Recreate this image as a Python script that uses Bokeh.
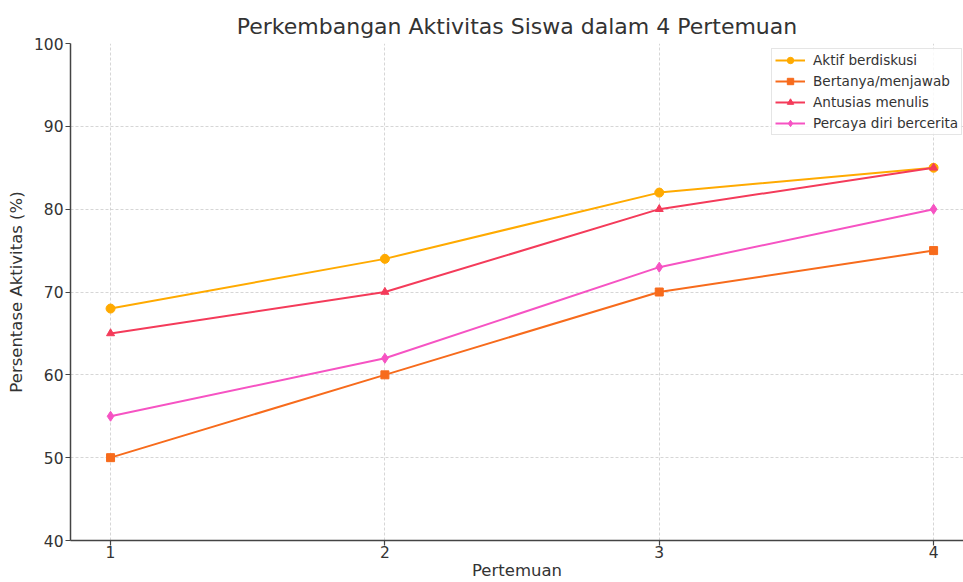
from bokeh.plotting import figure
from bokeh.models import Range1d, FixedTicker, Legend, LegendItem
from bokeh.embed import file_html
from bokeh.resources import INLINE

pertemuan = [1, 2, 3, 4]
aktif = [68, 74, 82, 85]
bertanya = [50, 60, 70, 75]
antusias = [65, 70, 80, 85]
percaya = [55, 62, 73, 80]
y_ticks = [40, 50, 60, 70, 80, 90, 100]

FONT = "DejaVu Sans"

p = figure(width=963, height=582, output_backend="svg", toolbar_location=None,
           x_range=Range1d(0.854, 4.109), y_range=Range1d(40, 100),
           min_border_left=70, min_border_right=0, min_border_top=43, min_border_bottom=41)

p.title.text = "Perkembangan Aktivitas Siswa dalam 4 Pertemuan"
p.title.align = "center"
p.title.text_font = FONT
p.title.text_font_size = "22px"
p.title.text_font_style = "normal"
p.title.text_color = "#333333"
p.title.offset = 9
p.title.standoff = 9

p.outline_line_color = None
for ax in (p.xaxis[0], p.yaxis[0]):
    ax.axis_line_color = "#444444"
    ax.axis_line_width = 1.5
    ax.major_tick_line_color = "#444444"
    ax.major_tick_line_width = 1.2
    ax.major_tick_out = 5
    ax.major_tick_in = 0
    ax.minor_tick_line_color = None
    ax.major_label_text_font = FONT
    ax.major_label_text_font_size = "15.5px"
    ax.major_label_text_color = "#333333"
    ax.axis_label_text_font = FONT
    ax.axis_label_text_font_size = "16.5px"
    ax.axis_label_text_font_style = "normal"
    ax.axis_label_text_color = "#333333"

p.xaxis.ticker = FixedTicker(ticks=pertemuan)
p.yaxis.ticker = FixedTicker(ticks=y_ticks)
p.xaxis.axis_label = "Pertemuan"
p.yaxis.axis_label = "Persentase Aktivitas (%)"
p.xaxis.axis_label_standoff = 0
p.yaxis.axis_label_standoff = 5
p.xaxis.major_label_standoff = 0
p.yaxis.major_label_standoff = 2

for g in (p.xgrid[0], p.ygrid[0]):
    g.grid_line_color = "#cccccc"
    g.grid_line_dash = "3 2"
    g.grid_line_width = 0.8

series = [
    ("Aktif berdiskusi", aktif, "#FFAA00", "circle", 9),
    ("Bertanya/menjawab", bertanya, "#F76B1C", "square", 8),
    ("Antusias menulis", antusias, "#F43B5A", "triangle", 8),
    ("Percaya diri bercerita", percaya, "#F653C3", "diamond", 10),
]

items = []
for name, vals, color, marker, size in series:
    r1 = p.line(pertemuan, vals, line_color=color, line_width=2)
    r2 = p.scatter(pertemuan, vals, marker=marker, size=size, fill_color=color, line_color=color)
    items.append(LegendItem(label=name, renderers=[r1, r2]))

legend = Legend(items=items, location=(701, 405))
legend.label_text_font = FONT
legend.label_text_font_size = "13.6px"
legend.label_text_color = "#333333"
legend.glyph_width = 30
legend.glyph_height = 16
legend.label_height = 16
legend.spacing = 5
legend.padding = 3
legend.margin = 0
legend.label_standoff = 8
legend.border_line_color = "#cccccc"
legend.border_line_width = 1
legend.background_fill_alpha = 0.85
p.add_layout(legend, "center")

open("out.html", "w").write(file_html(p, INLINE))
